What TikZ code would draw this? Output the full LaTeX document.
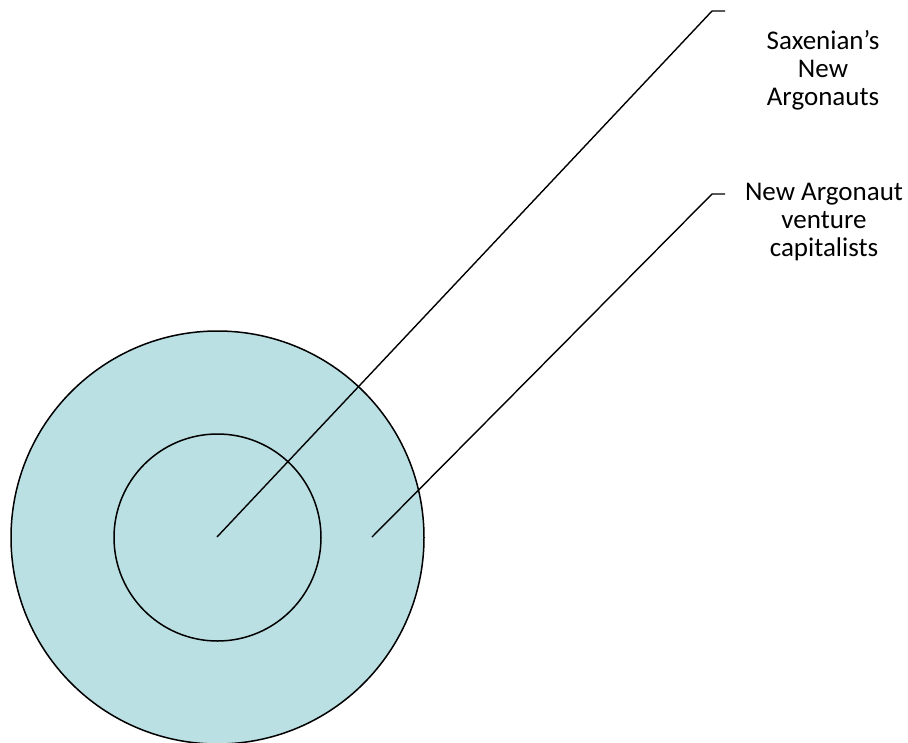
\documentclass[tikz,border=0pt]{standalone}
\usepackage{fontspec}
\setmainfont{Carlito}
\usepackage{xcolor}
\usepackage{tikz}
\usetikzlibrary{positioning, shapes.geometric, calc}

\definecolor{ringblue}{RGB}{186,224,227}

\begin{document}
\begin{tikzpicture}[x=1pt, y=-1pt,
        ring/.style={draw, circle, line width=1.5pt, inner sep=0pt},
        leader/.style={draw, line width=1.4pt},
        tag/.style={align=center, inner sep=0pt, font=\fontsize{27}{28}\selectfont}]
    \useasboundingbox (0,0) rectangle (908,742);
    % the two rings
    \node [ring, fill=ringblue, minimum size=413pt] (outer) at (217.5,537.5) {};
    \node [ring, minimum size=207pt] (inner) at (217.5,537.5) {};
    % leader end points
    \coordinate (core) at (217,537);
    \coordinate (band) at (372,537);
    \coordinate (bendA) at (712,11);
    \coordinate (endA) at (725,11);
    \coordinate (bendB) at (712,194);
    \coordinate (endB) at (725,194);
    % captions
    \node [tag] (saxenian) at (823,70) {Saxenian’s\\New\\Argonauts};
    \node [tag] (venture) at (824,222) {New Argonaut\\venture\\capitalists};
    \draw [leader] (core) -- (bendA) -- (endA);
    \draw [leader] (band) -- (bendB) -- (endB);
\end{tikzpicture}
\end{document}
